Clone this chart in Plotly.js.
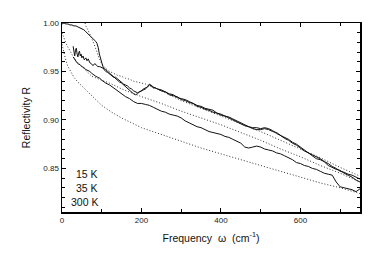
<!DOCTYPE html>
<html><head><meta charset="utf-8">
<script src="https://cdn.plot.ly/plotly-3.0.1.min.js"></script>
<style>html,body{margin:0;padding:0;background:#fff}#plot{width:382px;height:266px}</style>
</head><body><div id="plot"></div>
<script>
// Measured reflectivity (solid)
const xA = [0,5,10,15,20,25,30,35,40,45,50,55,60,65,70,75,80,85,88,91,94,97,100,103,106,110,115,120,125,130,135,140,145,150,155,160,165,170,175,180,185,190,195,200,205,210,215,220,225,230,235,240,250,260,270,280,290,300,310,320,330,340,350,360,370,380,390,400,410,420,430,440,450,460,470,480,490,500,510,520,530,540,550,560,570,580,590,600,610,620,630,640,650,660,670,680,690,700,710,720,730,740,750];
const yA = [0.999,1.000,0.999,0.999,0.998,0.998,0.997,0.997,0.996,0.995,0.994,0.993,0.991,0.989,0.988,0.985,0.984,0.981,0.979,0.975,0.968,0.963,0.959,0.955,0.952,0.950,0.949,0.947,0.946,0.944,0.944,0.942,0.940,0.939,0.937,0.936,0.935,0.933,0.932,0.930,0.929,0.928,0.929,0.930,0.931,0.932,0.934,0.936,0.935,0.933,0.933,0.932,0.931,0.929,0.927,0.926,0.923,0.922,0.921,0.919,0.917,0.915,0.914,0.912,0.911,0.910,0.907,0.906,0.904,0.903,0.901,0.899,0.897,0.895,0.893,0.892,0.892,0.891,0.892,0.891,0.889,0.886,0.884,0.882,0.880,0.877,0.875,0.872,0.869,0.866,0.864,0.862,0.860,0.857,0.855,0.852,0.850,0.847,0.846,0.844,0.843,0.841,0.839];
const xB = [28,30,32,34,36,38,40,42,44,46,48,50,53,56,60,63,66,70,74,78,82,86,90,95,100,105,110,115,120,125,130,135,140,145,150,155,160,165,170,175,180,185,190,195,200,205,210,215,220,225,230,240,250,260,270,280,290,300,310,320,330,340,350,360,370,380,390,400,410,420,430,440,450,460,470,480,490,500,510,520,530,540,550,560,570,580,590,600,610,620,630,640,650,660,670,680,690,700,710,720,730,740,750];
const yB = [0.976,0.970,0.966,0.972,0.974,0.968,0.965,0.969,0.971,0.966,0.968,0.964,0.966,0.962,0.964,0.961,0.963,0.959,0.958,0.956,0.958,0.957,0.955,0.955,0.954,0.953,0.952,0.950,0.948,0.947,0.944,0.943,0.941,0.939,0.938,0.936,0.934,0.933,0.931,0.929,0.927,0.926,0.927,0.929,0.930,0.932,0.933,0.934,0.937,0.935,0.934,0.932,0.930,0.929,0.926,0.925,0.924,0.921,0.920,0.918,0.917,0.914,0.913,0.911,0.910,0.908,0.907,0.905,0.904,0.902,0.900,0.898,0.896,0.894,0.893,0.891,0.890,0.890,0.891,0.890,0.888,0.887,0.884,0.881,0.879,0.876,0.874,0.871,0.868,0.866,0.863,0.860,0.859,0.857,0.853,0.851,0.849,0.848,0.845,0.843,0.841,0.838,0.836];
const xC = [28,32,36,40,45,50,55,60,65,70,75,80,85,90,95,100,110,120,130,140,150,160,170,180,190,200,210,220,230,240,250,260,270,280,290,300,310,320,330,340,350,360,370,380,390,400,410,420,430,440,450,460,470,480,490,500,510,520,530,540,550,560,570,580,590,600,610,620,630,640,650,660,670,680,690,700,710,720,730,740,750];
const yC = [0.965,0.962,0.960,0.958,0.957,0.955,0.954,0.952,0.951,0.950,0.948,0.946,0.945,0.944,0.943,0.941,0.938,0.936,0.933,0.930,0.927,0.924,0.922,0.919,0.917,0.917,0.916,0.915,0.913,0.911,0.909,0.908,0.906,0.905,0.904,0.902,0.899,0.897,0.895,0.893,0.892,0.890,0.888,0.887,0.886,0.885,0.883,0.882,0.880,0.878,0.876,0.872,0.871,0.872,0.873,0.872,0.870,0.869,0.868,0.866,0.865,0.863,0.861,0.859,0.856,0.855,0.853,0.852,0.850,0.849,0.847,0.845,0.844,0.843,0.836,0.831,0.830,0.829,0.828,0.826,0.829];
// Model fits (dotted)
const xD1 = [58,60,65,70,75,80,85,90,95,100,105,110,120,130,140,150,160,170,180,190,200,210,220,240,260,280,300,350,400,450,500,550,600,650,700,750];
const yD1 = [1.000,0.997,0.993,0.989,0.984,0.979,0.973,0.967,0.962,0.958,0.955,0.953,0.950,0.948,0.946,0.945,0.943,0.942,0.940,0.939,0.938,0.937,0.935,0.932,0.928,0.924,0.920,0.912,0.904,0.896,0.888,0.879,0.870,0.861,0.851,0.842];
const xD2 = [0,5,10,15,20,25,30,40,50,60,75,100,125,150,200,250,300,350,400,450,500,550,600,650,700,750];
const yD2 = [0.990,0.984,0.979,0.975,0.971,0.967,0.964,0.959,0.955,0.950,0.945,0.941,0.937,0.932,0.924,0.917,0.909,0.902,0.895,0.887,0.879,0.870,0.862,0.853,0.845,0.836];
const xD3 = [0,5,10,15,20,25,30,40,50,60,75,100,125,150,200,250,300,350,400,450,500,550,600,650,700,750];
const yD3 = [0.978,0.968,0.961,0.955,0.951,0.947,0.944,0.939,0.935,0.931,0.925,0.915,0.908,0.902,0.892,0.885,0.878,0.871,0.865,0.859,0.853,0.847,0.841,0.835,0.830,0.824];
const tempLabels = ["15 K","35 K","300 K"];
const xTicks = [0,200,400,600];
const yTicks = [0.85,0.90,0.95,1.00];

const solid = {color:'#111', width:1};
const dotted = {color:'#333', width:1, dash:'1px,2px'};
const traces = [
  {x:xD3, y:yD3, mode:'lines', line:dotted},
  {x:xD2, y:yD2, mode:'lines', line:dotted},
  {x:xD1, y:yD1, mode:'lines', line:dotted},
  {x:xC, y:yC, mode:'lines', line:solid},
  {x:xB, y:yB, mode:'lines', line:solid},
  {x:xA, y:yA, mode:'lines', line:solid}
];
const font = {family:'Liberation Sans, Arial, sans-serif', color:'#111'};
const layout = {
  width:382, height:266,
  margin:{l:62, r:22, t:23, b:54},
  showlegend:false,
  paper_bgcolor:'#fff', plot_bgcolor:'#fff',
  font:font,
  xaxis:{
    range:[0,750], tickvals:xTicks, ticktext:xTicks.map(String),
    ticks:'inside', ticklen:4, tickwidth:1, tickcolor:'#000',
    minor:{tickvals:[100,300,500,700], ticks:'inside', ticklen:3, tickcolor:'#000'},
    showline:true, linecolor:'#000', linewidth:1.5, mirror:'ticks',
    showgrid:false, zeroline:false,
    tickfont:{size:8, color:'#222', family:font.family},
    title:{text:'Frequency\u00a0\u00a0\u03c9\u00a0\u00a0(cm<sup>-1</sup>)', font:{size:10.5, color:'#111', family:font.family}, standoff:10}
  },
  yaxis:{
    range:[0.805,1.0], tickvals:yTicks, ticktext:yTicks.map(v=>v.toFixed(2)),
    ticks:'inside', ticklen:4, tickwidth:1, tickcolor:'#000',
    minor:{dtick:0.01, ticks:'inside', ticklen:3, tickcolor:'#000'},
    showline:true, linecolor:'#000', linewidth:1.5, mirror:'ticks',
    showgrid:false, zeroline:false,
    tickfont:{size:8, color:'#222', family:font.family},
    title:{text:'Reflectivity R', font:{size:10.5, color:'#111', family:font.family}, standoff:10}
  },
  annotations: tempLabels.map((t,i)=>({
    text:t, xref:'paper', yref:'paper', x:0.128, y:[0.202,0.127,0.051][i],
    xanchor:'right', yanchor:'middle', showarrow:false,
    font:{size:10.5, color:'#111', family:font.family}
  }))
};
Plotly.newPlot('plot', traces, layout, {displayModeBar:false, staticPlot:true});
</script></body></html>
